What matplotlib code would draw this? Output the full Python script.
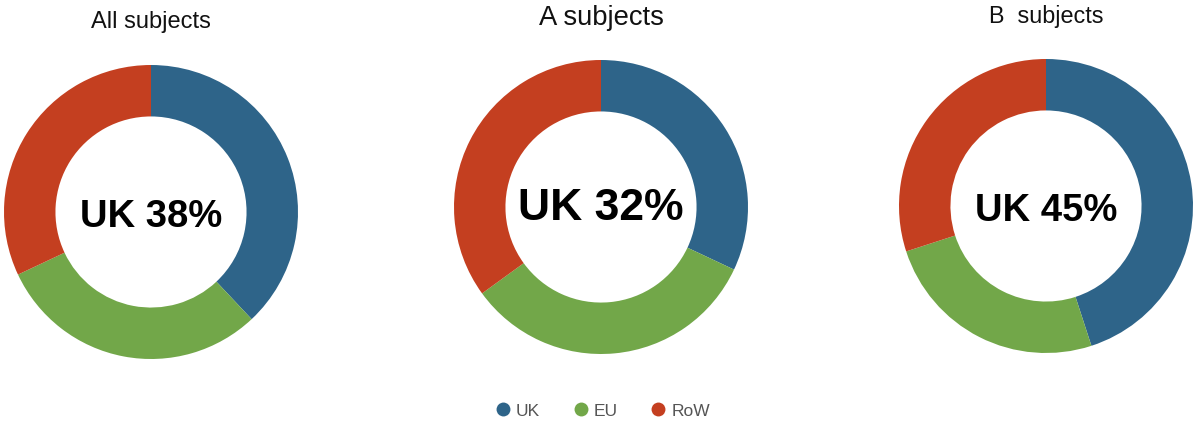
import matplotlib
matplotlib.use("Agg")
import matplotlib.pyplot as plt
from matplotlib.lines import Line2D

plt.rcParams['font.family'] = ['Liberation Sans', 'DejaVu Sans']

categories = ["UK", "EU", "RoW"]
titles = ["All subjects", "A subjects", "B  subjects"]
all_values = [38, 30, 32]
a_values = [32, 33, 35]
b_values = [45, 25, 30]
center_labels = ["UK 38%", "UK 32%", "UK 45%"]

colors = ["#2E6489", "#72A749", "#C43F20"]

W, H = 1196, 423
fig = plt.figure(figsize=(W / 100, H / 100), dpi=100)

# pixel layout: centre x, centre y, outer radius,
# title size, title baseline, label size, label baseline
panels = [
    (151, 212, 147, 17.0, 28, 27.5, 227),
    (601, 207, 147, 19.7, 25, 32.0, 220),
    (1046, 206, 147, 16.8, 23, 27.5, 221),
]
series = [all_values, a_values, b_values]

for (cx, cy, r, tsize, ty, lsize, ly), vals, title, lab in zip(panels, series, titles, center_labels):
    ax = fig.add_axes([(cx - r) / W, 1 - (cy + r) / H, 2 * r / W, 2 * r / H])
    ax.pie(vals, colors=colors, startangle=90, counterclock=False,
           radius=1, wedgeprops=dict(width=0.35, edgecolor='none'))
    ax.set_xlim(-1, 1)
    ax.set_ylim(-1, 1)
    ax.set_aspect('equal')
    ax.axis('off')
    fig.text(cx / W, 1 - ly / H, lab, ha='center', va='baseline',
             fontsize=lsize, fontweight='bold', color='black')
    fig.text(cx / W, 1 - ty / H, title, ha='center', va='baseline',
             fontsize=tsize, color='#111111')

handles = [Line2D([0], [0], marker='o', linestyle='none', markersize=10,
                  markerfacecolor=c, markeredgecolor='none') for c in colors]
fig.legend(handles, categories, loc='center', bbox_to_anchor=(602 / W, 1 - 411 / H),
           ncol=3, frameon=False, fontsize=12.5, handlelength=1.0,
           handletextpad=0.25, columnspacing=1.85, labelcolor='#555555')

fig.savefig("out.png", dpi=100)
